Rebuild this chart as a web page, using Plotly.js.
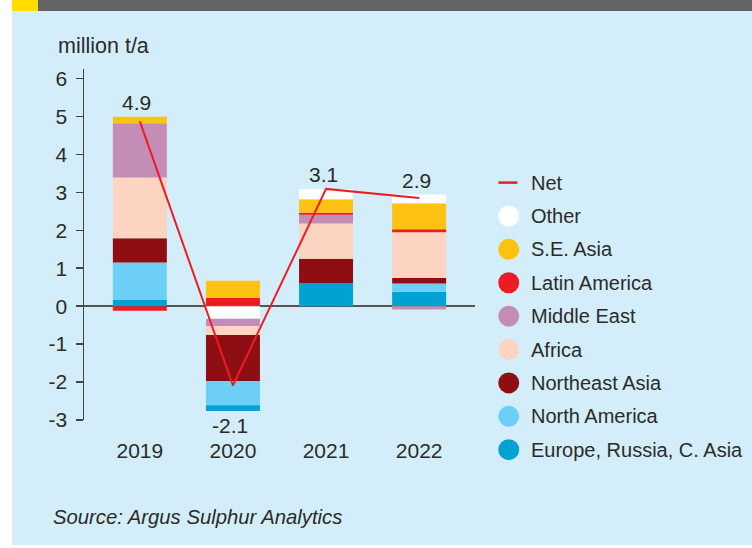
<!DOCTYPE html>
<html>
<head>
<meta charset="utf-8">
<script src="https://cdn.plot.ly/plotly-3.0.1.min.js"></script>
<style>
  body { margin: 0; background: #ffffff; }
  #banner { position: absolute; left: 12px; top: 0; width: 740px; height: 11px; background: #636466; }
  #flag { position: absolute; left: 12px; top: 0; width: 26px; height: 11px; background: #ffdd00; }
  #chart { position: absolute; left: 12px; top: 11px; width: 740px; height: 534px; }
</style>
</head>
<body>
<div id="banner"></div>
<div id="flag"></div>
<div id="chart"></div>
<script>
// million t/a
var years = ['2019', '2020', '2021', '2022'];
var europe = [0.16, -0.15, 0.61, 0.38];
var northAmerica = [0.99, -0.64, 0, 0.22];
var northeastAsia = [0.64, -1.21, 0.64, 0.14];
var africa = [1.60, -0.24, 0.93, 1.21];
var middleEast = [1.43, -0.19, 0.23, -0.09];
var latinAmerica = [-0.12, 0.22, 0.05, 0.08];
var seAsia = [0.17, 0.45, 0.36, 0.68];
var other = [0, -0.33, 0.27, 0.23];
var net = [4.87, -2.09, 3.09, 2.85];
var netLabels = ['4.9', '-2.1', '3.1', '2.9'];
var yTicks = [-3, -2, -1, 0, 1, 2, 3, 4, 5, 6];
var yTickText = ['-3', '-2', '-1', '0', '1', '2', '3', '4', '5', '6'];

// bottom of the stack first
var series = [
    { name: 'Europe, Russia, C. Asia', y: europe, color: '#00a1d3' },
    { name: 'North America', y: northAmerica, color: '#6dcff6' },
    { name: 'Northeast Asia', y: northeastAsia, color: '#8f0e14' },
    { name: 'Africa', y: africa, color: '#fdd3c1' },
    { name: 'Middle East', y: middleEast, color: '#c48db5' },
    { name: 'Latin America', y: latinAmerica, color: '#ed1c24' },
    { name: 'S.E. Asia', y: seAsia, color: '#fec212' },
    { name: 'Other', y: other, color: '#ffffff' }
];
var netColor = '#ed1c24';
var textColor = '#2b2b2b';
var font = 'Liberation Sans, Arial, sans-serif';

// plot area in page pixels, to place the hand made legend
var plotL = 84, plotW = 390.6, plotB = 419.7, plotH = 350.4;
function px(x) { return (x - plotL) / plotW; }
function py(y) { return (plotB - y) / plotH; }

var traces = [];
// positive parts stack upwards from zero, negative parts stack downwards in reverse order
series.forEach(function (s) {
    traces.push({
        type: 'bar', x: years, y: s.y.map(function (v) { return v > 0 ? v : 0; }),
        width: 0.58, marker: { color: s.color, line: { width: 0 } },
        name: s.name, showlegend: false, hoverinfo: 'skip'
    });
});
series.slice().reverse().forEach(function (s) {
    traces.push({
        type: 'bar', x: years, y: s.y.map(function (v) { return v < 0 ? v : 0; }),
        width: 0.58, marker: { color: s.color, line: { width: 0 } },
        name: s.name, showlegend: false, hoverinfo: 'skip'
    });
});
traces.push({
    type: 'scatter', mode: 'lines', x: years, y: net,
    line: { color: netColor, width: 2 }, name: 'Net', showlegend: false, hoverinfo: 'skip'
});

var annotations = [];
var shapes = [];

years.forEach(function (yr, i) {
    var top = 0, bottom = 0;
    series.forEach(function (s) {
        if (s.y[i] > 0) top += s.y[i]; else bottom += s.y[i];
    });
    var up = net[i] >= 0;
    // category axis: position by index, the year strings look numeric
    annotations.push({
        x: i, y: up ? top : bottom, xref: 'x', yref: 'y',
        text: netLabels[i], showarrow: false, xshift: -3,
        yanchor: 'middle', yshift: up ? 14 : -15,
        font: { family: font, size: 21, color: textColor }
    });
});

// legend: Net line, then circles from top of stack down
var rowTop = 182.7, rowGap = 33.33;
shapes.push({
    type: 'line', xref: 'paper', yref: 'paper',
    x0: px(498), x1: px(517), y0: py(rowTop), y1: py(rowTop),
    line: { color: netColor, width: 2.5 }
});
annotations.push({
    xref: 'paper', yref: 'paper', x: px(529), y: py(rowTop),
    xanchor: 'left', yanchor: 'middle', showarrow: false, text: 'Net',
    font: { family: font, size: 20, color: textColor }
});
series.slice().reverse().forEach(function (s, k) {
    var yy = py(rowTop + rowGap * (k + 1));
    shapes.push({
        type: 'circle', xref: 'paper', yref: 'paper',
        xsizemode: 'pixel', ysizemode: 'pixel',
        xanchor: px(508.3), yanchor: yy,
        x0: -10.5, x1: 10.5, y0: -10.5, y1: 10.5,
        fillcolor: s.color, line: { width: 0 }
    });
    annotations.push({
        xref: 'paper', yref: 'paper', x: px(529), y: yy,
        xanchor: 'left', yanchor: 'middle', showarrow: false, text: s.name,
        font: { family: font, size: 20, color: textColor }
    });
});

annotations.push({
    xref: 'paper', yref: 'paper', x: px(56), y: py(46),
    xanchor: 'left', yanchor: 'middle', showarrow: false, text: 'million t/a',
    font: { family: font, size: 21.5, color: textColor }
});
annotations.push({
    xref: 'paper', yref: 'paper', x: px(51), y: py(517),
    xanchor: 'left', yanchor: 'middle', showarrow: false,
    text: '<i>Source: Argus Sulphur Analytics</i>',
    font: { family: font, size: 20.3, color: textColor }
});

var layout = {
    width: 740, height: 534,
    margin: { l: 72, r: 277.4, t: 58.3, b: 125.3 },
    paper_bgcolor: '#d3eefa', plot_bgcolor: 'rgba(0,0,0,0)',
    barmode: 'relative', showlegend: false,
    font: { family: font, color: textColor },
    xaxis: {
        type: 'category', range: [-0.6, 3.6], showline: false, showgrid: false,
        zeroline: false, ticks: '', ticklabelstandoff: 16,
        tickfont: { family: font, size: 21, color: textColor }, fixedrange: true
    },
    yaxis: {
        range: [-3, 6.25], tickvals: yTicks, ticktext: yTickText, showgrid: false,
        showline: true, linecolor: '#444444', linewidth: 1.5,
        ticks: 'outside', ticklen: 7, tickwidth: 1.5, tickcolor: '#444444',
        zeroline: true, zerolinecolor: '#555555', zerolinewidth: 1.5,
        layer: 'above traces', ticklabelstandoff: 4,
        tickfont: { family: font, size: 21, color: textColor }, fixedrange: true
    },
    annotations: annotations,
    shapes: shapes
};

Plotly.newPlot('chart', traces, layout, { displayModeBar: false, staticPlot: true });
</script>
</body>
</html>
